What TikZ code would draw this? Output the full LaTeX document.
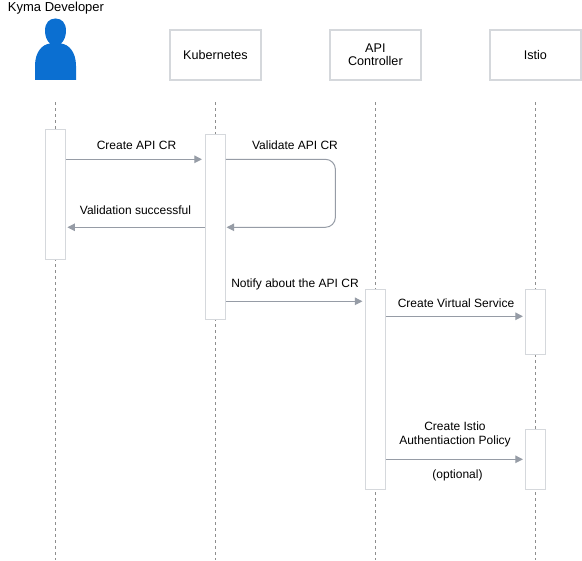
\documentclass[tikz,border=0pt]{standalone}
\usepackage{fontspec}
\setmainfont{Liberation Sans}
\usetikzlibrary{arrows.meta,calc}
\definecolor{boxline}{HTML}{D5D8DC}
\definecolor{flow}{HTML}{969CA6}
\definecolor{life}{HTML}{8E8E8E}
\definecolor{person}{HTML}{0B6FD1}
\tikzset{
  x=1pt,y=-1pt,
  header/.style={draw=boxline,line width=1.8pt,fill=white,minimum width=90.5pt,minimum height=50pt,inner sep=0pt,align=center,font=\fontsize{12.6}{13.6}\selectfont},
  bar/.style={draw=boxline,line width=1pt,fill=white,minimum width=20pt,inner sep=0pt},
  lifeline/.style={draw=life,line width=.6pt,dash pattern=on 3pt off 3pt},
  flowline/.style={draw=flow,line width=1pt,-{Triangle[length=7.5pt,width=7.5pt]}},
  label/.style={inner sep=0pt,align=center,font=\fontsize{12}{14}\selectfont},
}
\begin{document}
\begin{tikzpicture}
\useasboundingbox (0,0) rectangle (582,561);
\fill[white] (0,0) rectangle (582,561);
% person
\fill[person] (35,80) -- (35,66) .. controls (35,52) and (42,44.5) .. (50,43.5)
  .. controls (47,41) and (45,36) .. (45,31) .. controls (45,23) and (49,18.5) .. (55.5,18.5)
  .. controls (62,18.5) and (66,23) .. (66,31) .. controls (66,36) and (64,41) .. (61,43.5)
  .. controls (69,44.5) and (76,52) .. (76,66) -- (76,80) -- cycle;
\node[label,font=\fontsize{13}{15}\selectfont] (kyma) at (56,8) {Kyma Developer};
\begin{scope}[shift={(0.4,0.8)}]
% anchors
\coordinate (top) at (0,101.5);
\coordinate (bot) at (0,559);
\coordinate (kymaax) at (55,0);
\coordinate (m1) at (0,158.5);
\coordinate (m2) at (0,226.5);
\coordinate (m3) at (0,300.5);
\coordinate (m4) at (0,315.5);
\coordinate (m5) at (0,458.5);
\coordinate (loopx) at (335,0);
% headers
\node[header] (kube) at (215,54) {\raisebox{-1pt}{Kubernetes}};
\node[header] (ctrl) at (375,54) {\raisebox{-1.5pt}{API}\\\raisebox{-1pt}{Controller}};
\node[header] (istio) at (535,54) {\raisebox{-1pt}{Istio}};
% lifelines
\draw[lifeline] (kymaax |- top) -- (kymaax |- bot);
\draw[lifeline] (kube.south |- top) -- (kube.south |- bot);
\draw[lifeline] (ctrl.south |- top) -- (ctrl.south |- bot);
\draw[lifeline] (istio.south |- top) -- (istio.south |- bot);
% activation bars
\node[bar,minimum height=130pt] (a1) at (55,194) {};
\node[bar,minimum height=185pt] (a2) at (215,226.5) {};
\node[bar,minimum height=200pt] (a3) at (375,389) {};
\node[bar,minimum height=65pt] (a4) at (535,321.5) {};
\node[bar,minimum height=60pt] (a5) at (535,459) {};
% connectors
\draw[flowline] (a1.east |- m1) -- ([xshift=-3pt]a2.west |- m1);
\draw[flowline] (a2.west |- m2) -- ([xshift=1.5pt]a1.east |- m2);
\draw[flowline,rounded corners=10pt] (a2.east |- m1) -- (loopx |- m1) -- (loopx |- m2) -- ([xshift=.7pt]a2.east |- m2);
\draw[flowline] (a2.east |- m3) -- ([xshift=-2.5pt]a3.west |- m3);
\draw[flowline] (a3.east |- m4) -- ([xshift=-2pt]a4.west |- m4);
\draw[flowline] (a3.east |- m5) -- ([xshift=-2pt]a5.west |- m5);
\end{scope}
% labels
\node[label] (l1) at (136.5,145) {Create API CR};
\node[label] (l2) at (135.5,210) {Validation successful};
\node[label] (l3) at (295,145) {Validate API CR};
\node[label] (l4) at (295,284.3) {Notify about the API CR};
\node[label] (l5) at (456,303) {Create Virtual Service};
\node[label] (l6) at (455,434.3) {Create Istio\\Authentiaction Policy};
\node[label] (l7) at (457.5,475) {(optional)};
\end{tikzpicture}
\end{document}
